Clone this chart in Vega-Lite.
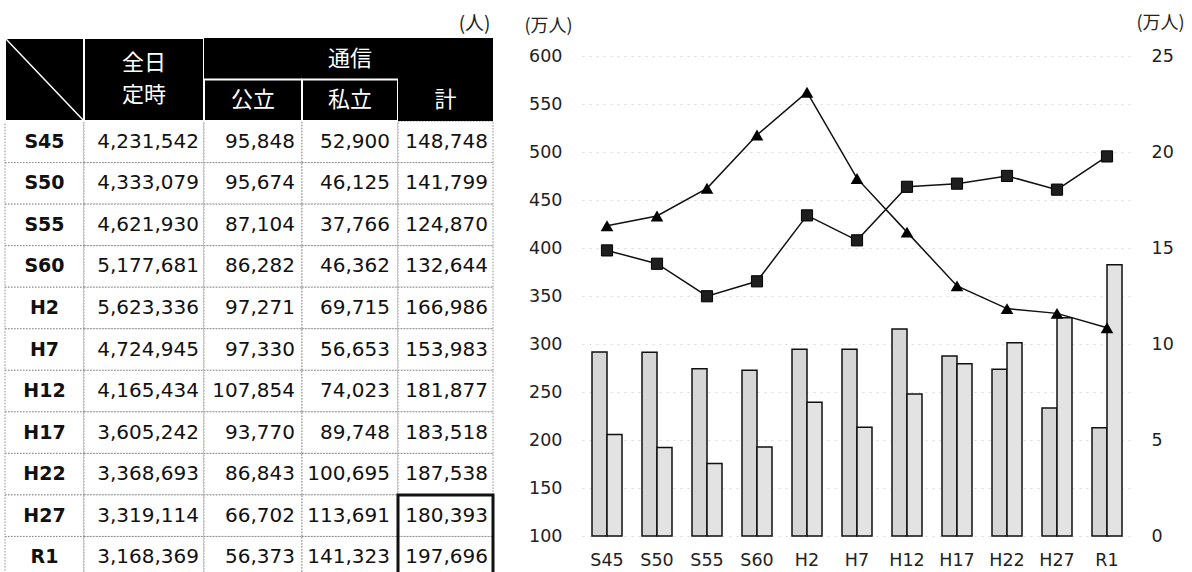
{
  "$schema": "https://vega.github.io/schema/vega-lite/v6.json",
  "background": "white",
  "padding": {"left": 4, "top": 14, "right": 0, "bottom": 0},
  "datasets": {
    "table": [
      {"year": "S45", "zentei": 4231542, "koritsu": 95848, "shiritsu": 52900, "kei": 148748},
      {"year": "S50", "zentei": 4333079, "koritsu": 95674, "shiritsu": 46125, "kei": 141799},
      {"year": "S55", "zentei": 4621930, "koritsu": 87104, "shiritsu": 37766, "kei": 124870},
      {"year": "S60", "zentei": 5177681, "koritsu": 86282, "shiritsu": 46362, "kei": 132644},
      {"year": "H2", "zentei": 5623336, "koritsu": 97271, "shiritsu": 69715, "kei": 166986},
      {"year": "H7", "zentei": 4724945, "koritsu": 97330, "shiritsu": 56653, "kei": 153983},
      {"year": "H12", "zentei": 4165434, "koritsu": 107854, "shiritsu": 74023, "kei": 181877},
      {"year": "H17", "zentei": 3605242, "koritsu": 93770, "shiritsu": 89748, "kei": 183518},
      {"year": "H22", "zentei": 3368693, "koritsu": 86843, "shiritsu": 100695, "kei": 187538},
      {"year": "H27", "zentei": 3319114, "koritsu": 66702, "shiritsu": 113691, "kei": 180393},
      {"year": "R1", "zentei": 3168369, "koritsu": 56373, "shiritsu": 141323, "kei": 197696}
    ]
  },
  "spacing": 0,
  "bounds": "flush",
  "hconcat": [
    {
      "width": 79,
      "height": 540,
      "data": {"name": "table"},
      "layer": [
        {
          "mark": {"type": "rect", "fill": "white", "stroke": "#8c8c8c", "strokeWidth": 1, "strokeDash": [1.5, 1.5]},
          "encoding": {"y": {"field": "year", "type": "nominal", "axis": null, "scale": {"domain": ["h1", "h2", "S45", "S50", "S55", "S60", "H2", "H7", "H12", "H17", "H22", "H27", "R1"], "paddingInner": 0, "paddingOuter": 0}}}
        },
        {
          "mark": {"type": "text", "font": "DejaVu Sans", "fontWeight": "bold", "fontSize": 19, "color": "#111"},
          "encoding": {"y": {"field": "year", "type": "nominal", "axis": null}, "text": {"field": "year", "type": "nominal"}}
        },
        {
          "data": {"values": [{}]},
          "mark": {"type": "rect", "fill": "black", "stroke": "white", "strokeWidth": 2},
          "encoding": {"y": {"datum": "h1", "type": "nominal", "bandPosition": 0, "axis": null}, "y2": {"datum": "h2", "bandPosition": 1}}
        },
        {
          "data": {"values": [{}]},
          "mark": {"type": "rule", "color": "white", "strokeWidth": 1.5},
          "encoding": {"x": {"value": 0}, "x2": {"value": "width"}, "y": {"datum": "h1", "type": "nominal", "bandPosition": 0, "axis": null}, "y2": {"datum": "h2", "bandPosition": 1}}
        }
      ]
    },
    {
      "width": 120,
      "height": 540,
      "data": {"name": "table"},
      "layer": [
        {
          "mark": {"type": "rect", "fill": "white", "stroke": "#8c8c8c", "strokeWidth": 1, "strokeDash": [1.5, 1.5]},
          "encoding": {"y": {"field": "year", "type": "nominal", "axis": null, "scale": {"domain": ["h1", "h2", "S45", "S50", "S55", "S60", "H2", "H7", "H12", "H17", "H22", "H27", "R1"], "paddingInner": 0, "paddingOuter": 0}}}
        },
        {
          "mark": {"type": "text", "font": "DejaVu Sans", "fontSize": 20, "color": "#111", "align": "right", "dx": -5},
          "encoding": {"x": {"value": "width"}, "y": {"field": "year", "type": "nominal", "axis": null}, "text": {"field": "zentei", "type": "quantitative", "format": ","}}
        },
        {
          "data": {"values": [{}]},
          "mark": {"type": "rect", "fill": "black", "stroke": "white", "strokeWidth": 2},
          "encoding": {"y": {"datum": "h1", "type": "nominal", "bandPosition": 0, "axis": null}, "y2": {"datum": "h2", "bandPosition": 1}}
        },
        {
          "data": {"values": [{}]},
          "mark": {"type": "text", "text": ["全日", "定時"], "lineHeight": 32, "baseline": "middle", "font": "Noto Sans CJK JP", "fontSize": 22, "color": "white"},
          "encoding": {"y": {"datum": "h1", "type": "nominal", "bandPosition": 0.6, "axis": null}}
        }
      ]
    },
    {
      "width": 98,
      "height": 540,
      "data": {"name": "table"},
      "layer": [
        {
          "mark": {"type": "rect", "fill": "white", "stroke": "#8c8c8c", "strokeWidth": 1, "strokeDash": [1.5, 1.5]},
          "encoding": {"y": {"field": "year", "type": "nominal", "axis": null, "scale": {"domain": ["h1", "h2", "S45", "S50", "S55", "S60", "H2", "H7", "H12", "H17", "H22", "H27", "R1"], "paddingInner": 0, "paddingOuter": 0}}}
        },
        {
          "mark": {"type": "text", "font": "DejaVu Sans", "fontSize": 20, "color": "#111", "align": "right", "dx": -7},
          "encoding": {"x": {"value": "width"}, "y": {"field": "year", "type": "nominal", "axis": null}, "text": {"field": "koritsu", "type": "quantitative", "format": ","}}
        },
        {
          "data": {"values": [{}]},
          "mark": {"type": "rect", "fill": "black"},
          "encoding": {"y": {"datum": "h1", "type": "nominal", "axis": null}}
        },
        {
          "data": {"values": [{}]},
          "mark": {"type": "rect", "fill": "black", "stroke": "white", "strokeWidth": 2},
          "encoding": {"y": {"datum": "h2", "type": "nominal", "axis": null}}
        },
        {
          "data": {"values": [{}]},
          "mark": {"type": "text", "text": "公立", "font": "Noto Sans CJK JP", "fontSize": 22, "color": "white"},
          "encoding": {"y": {"datum": "h2", "type": "nominal", "axis": null}}
        }
      ]
    },
    {
      "width": 96,
      "height": 540,
      "data": {"name": "table"},
      "layer": [
        {
          "mark": {"type": "rect", "fill": "white", "stroke": "#8c8c8c", "strokeWidth": 1, "strokeDash": [1.5, 1.5]},
          "encoding": {"y": {"field": "year", "type": "nominal", "axis": null, "scale": {"domain": ["h1", "h2", "S45", "S50", "S55", "S60", "H2", "H7", "H12", "H17", "H22", "H27", "R1"], "paddingInner": 0, "paddingOuter": 0}}}
        },
        {
          "mark": {"type": "text", "font": "DejaVu Sans", "fontSize": 20, "color": "#111", "align": "right", "dx": -8},
          "encoding": {"x": {"value": "width"}, "y": {"field": "year", "type": "nominal", "axis": null}, "text": {"field": "shiritsu", "type": "quantitative", "format": ","}}
        },
        {
          "data": {"values": [{}]},
          "mark": {"type": "rect", "fill": "black"},
          "encoding": {"y": {"datum": "h1", "type": "nominal", "axis": null}}
        },
        {
          "data": {"values": [{}]},
          "mark": {"type": "rect", "fill": "black", "stroke": "white", "strokeWidth": 2},
          "encoding": {"y": {"datum": "h2", "type": "nominal", "axis": null}}
        },
        {
          "data": {"values": [{}]},
          "mark": {"type": "text", "text": "通信", "font": "Noto Sans CJK JP", "fontSize": 22, "color": "white"},
          "encoding": {"y": {"datum": "h1", "type": "nominal", "axis": null}}
        },
        {
          "data": {"values": [{}]},
          "mark": {"type": "text", "text": "私立", "font": "Noto Sans CJK JP", "fontSize": 22, "color": "white"},
          "encoding": {"y": {"datum": "h2", "type": "nominal", "axis": null}}
        }
      ]
    },
    {
      "width": 95,
      "height": 540,
      "data": {"name": "table"},
      "title": {"text": "(人)", "anchor": "end", "dx": -4, "offset": 4, "font": "Noto Sans CJK JP", "fontSize": 19, "fontWeight": "normal", "color": "#222"},
      "layer": [
        {
          "mark": {"type": "rect", "fill": "white", "stroke": "#8c8c8c", "strokeWidth": 1, "strokeDash": [1.5, 1.5]},
          "encoding": {"y": {"field": "year", "type": "nominal", "axis": null, "scale": {"domain": ["h1", "h2", "S45", "S50", "S55", "S60", "H2", "H7", "H12", "H17", "H22", "H27", "R1"], "paddingInner": 0, "paddingOuter": 0}}}
        },
        {
          "mark": {"type": "text", "font": "DejaVu Sans", "fontSize": 20, "color": "#111", "align": "right", "dx": -5},
          "encoding": {"x": {"value": "width"}, "y": {"field": "year", "type": "nominal", "axis": null}, "text": {"field": "kei", "type": "quantitative", "format": ","}}
        },
        {
          "data": {"values": [{}]},
          "mark": {"type": "rect", "fill": "black"},
          "encoding": {"y": {"datum": "h1", "type": "nominal", "bandPosition": 0, "axis": null}, "y2": {"datum": "h2", "bandPosition": 1}}
        },
        {
          "data": {"values": [{}]},
          "mark": {"type": "text", "text": "計", "font": "Noto Sans CJK JP", "fontSize": 22, "color": "white"},
          "encoding": {"y": {"datum": "h2", "type": "nominal", "axis": null}}
        },
        {
          "data": {"values": [{}]},
          "mark": {"type": "rect", "fillOpacity": 0, "stroke": "#111", "strokeWidth": 3},
          "encoding": {"y": {"datum": "H27", "type": "nominal", "bandPosition": 0, "axis": null}, "y2": {"datum": "R1", "bandPosition": 1}}
        }
      ]
    },
    {
      "width": 89,
      "height": 498,
      "data": {"values": [{}]},
      "mark": {"type": "text", "text": ""}
    },
    {
      "width": 550,
      "height": 498,
      "data": {"name": "table"},
      "encoding": {
        "x": {
          "field": "year",
          "type": "nominal",
          "scale": {"domain": ["S45", "S50", "S55", "S60", "H2", "H7", "H12", "H17", "H22", "H27", "R1"], "paddingInner": 0.4, "paddingOuter": 0.2},
          "axis": {"title": null, "labelAngle": 0, "domain": false, "ticks": false, "grid": false, "labelPadding": 15, "labelFont": "DejaVu Sans", "labelFontSize": 17.5, "labelColor": "#222"}
        }
      },
      "layer": [
        {
          "layer": [
            {
              "transform": [{"fold": ["koritsu", "shiritsu"], "as": ["kind", "count"]}],
              "mark": {"type": "bar", "stroke": "#111", "strokeWidth": 1.5},
              "encoding": {
                "xOffset": {"field": "kind", "type": "nominal", "sort": ["koritsu", "shiritsu"]},
                "y": {
                  "field": "count",
                  "type": "quantitative",
                  "scale": {"domain": [0, 259375], "nice": false, "zero": false},
                  "axis": {"orient": "right", "title": "(万人)", "values": [0, 50000, 100000, 150000, 200000, 250000], "labelExpr": "format(datum.value / 10000, 'd')", "domain": false, "ticks": false, "tickSize": 0, "grid": false, "labelPadding": 19, "labelFont": "DejaVu Sans", "labelFontSize": 17.5, "labelColor": "#222", "titleAngle": 0, "titleAlign": "center", "titleBaseline": "bottom", "titleX": 28, "titleY": -6, "titleFont": "Noto Sans CJK JP", "titleFontSize": 18, "titleFontWeight": "normal", "titleColor": "#222"}
                },
                "fill": {"field": "kind", "type": "nominal", "scale": {"domain": ["koritsu", "shiritsu"], "range": ["#d6d6d6", "#e3e3e3"]}, "legend": null}
              }
            },
            {
              "mark": {"type": "line", "color": "#111", "strokeWidth": 1.5, "point": {"shape": "square", "size": 125, "filled": true, "fill": "#1e1e1e", "stroke": "#000", "strokeWidth": 1}},
              "encoding": {
                "y": {
                  "field": "kei",
                  "type": "quantitative",
                  "scale": {"domain": [0, 259375], "nice": false, "zero": false},
                  "axis": {"orient": "right", "title": "(万人)", "values": [0, 50000, 100000, 150000, 200000, 250000], "labelExpr": "format(datum.value / 10000, 'd')", "domain": false, "ticks": false, "tickSize": 0, "grid": false, "labelPadding": 19, "labelFont": "DejaVu Sans", "labelFontSize": 17.5, "labelColor": "#222", "titleAngle": 0, "titleAlign": "center", "titleBaseline": "bottom", "titleX": 28, "titleY": -6, "titleFont": "Noto Sans CJK JP", "titleFontSize": 18, "titleFontWeight": "normal", "titleColor": "#222"}
                }
              }
            }
          ]
        },
        {
          "mark": {"type": "line", "color": "#111", "strokeWidth": 1.5, "point": {"shape": "triangle-up", "size": 160, "filled": true, "color": "#000"}},
          "encoding": {
            "y": {
              "field": "zentei",
              "type": "quantitative",
              "scale": {"domain": [1000000, 6187500], "nice": false, "zero": false},
              "axis": {"orient": "left", "title": "(万人)", "values": [1000000, 1500000, 2000000, 2500000, 3000000, 3500000, 4000000, 4500000, 5000000, 5500000, 6000000], "labelExpr": "format(datum.value / 10000, 'd')", "domain": false, "ticks": false, "tickSize": 0, "grid": true, "gridColor": "#dadada", "gridDash": [2, 5], "labelPadding": 20, "labelFont": "DejaVu Sans", "labelFontSize": 17.5, "labelColor": "#222", "titleAngle": 0, "titleAlign": "center", "titleBaseline": "bottom", "titleX": -34, "titleY": -3, "titleFont": "Noto Sans CJK JP", "titleFontSize": 18, "titleFontWeight": "normal", "titleColor": "#222"}
            }
          }
        }
      ],
      "resolve": {"scale": {"y": "independent"}}
    }
  ],
  "config": {"view": {"stroke": null}}
}
